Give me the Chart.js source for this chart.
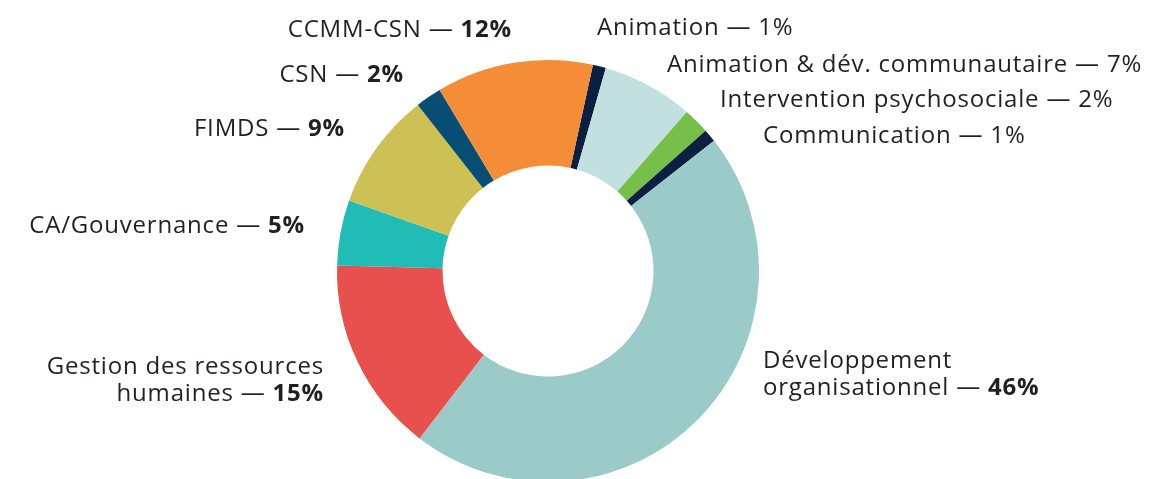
<!DOCTYPE html>
<html>
<head>
<meta charset="utf-8">
<script src="https://cdn.jsdelivr.net/npm/chart.js@4.4.0/dist/chart.umd.min.js"></script>
<style>
  html, body { margin: 0; padding: 0; background: #fff; overflow: hidden; }
  #wrap { width: 1156px; height: 482px; position: relative; }
</style>
</head>
<body>
<div id="wrap"><canvas id="myChart"></canvas></div>
<script>
// data
var categories = [
    'Animation',
    'Animation & dév. communautaire',
    'Intervention psychosociale',
    'Communication',
    'Développement organisationnel',
    'Gestion des ressources humaines',
    'CA/Gouvernance',
    'FIMDS',
    'CSN',
    'CCMM-CSN'
];
var values = [1, 7, 2, 1, 46, 15, 5, 9, 2, 12];
var colors = ['#0b1f40', '#c2e0df', '#76c04a', '#0b1f40', '#9bcbc8', '#e8504e', '#22bcb6', '#cdc155', '#064e74', '#f58c37'];

// where each label sits, relative to the doughnut centre (text baseline of last line)
var labelLayout = [
    { dx: 49,   dy: -236, align: 'left',  bold: false },
    { dx: 119,  dy: -199, align: 'left',  bold: false },
    { dx: 172,  dy: -164, align: 'left',  bold: false },
    { dx: 215,  dy: -128, align: 'left',  bold: false },
    { dx: 215,  dy: 124,  align: 'left',  bold: true, lines: ['Développement', 'organisationnel'] },
    { dx: -224, dy: 130,  align: 'right', bold: true, lines: ['Gestion des ressources', 'humaines'] },
    { dx: -243, dy: -38,  align: 'right', bold: true },
    { dx: -203, dy: -135, align: 'right', bold: true },
    { dx: -144, dy: -189, align: 'right', bold: true },
    { dx: -36,  dy: -234, align: 'right', bold: true }
];

var FONT = '"Open Sans", sans-serif';
var lineH = 27;

var outsideLabels = {
    id: 'outsideLabels',
    afterDraw: function (chart) {
        var ctx = chart.ctx;
        var arc = chart.getDatasetMeta(0).data[0];
        var cx = arc.x, cy = arc.y;
        ctx.save();
        ctx.fillStyle = '#231f20';
        ctx.textBaseline = 'alphabetic';
        ctx.letterSpacing = '0.8px';
        labelLayout.forEach(function (l, i) {
            var lines = l.lines ? l.lines.slice() : [categories[i]];
            var pct = values[i] + '%';
            var n = lines.length;
            lines.forEach(function (txt, j) {
                var y = cy + l.dy - (n - 1 - j) * lineH;
                var x = cx + l.dx;
                var last = j === n - 1;
                var reg = last ? txt + ' — ' : txt;
                ctx.font = '500 24px ' + FONT;
                var wReg = ctx.measureText(reg).width;
                var wPct = 0;
                if (last) {
                    ctx.font = (l.bold ? '700 ' : '500 ') + '24px ' + FONT;
                    wPct = ctx.measureText(pct).width;
                }
                var start = l.align === 'left' ? x : x - wReg - wPct;
                ctx.textAlign = 'left';
                ctx.font = '500 24px ' + FONT;
                ctx.fillText(reg, start, y);
                if (last) {
                    ctx.font = (l.bold ? '700 ' : '500 ') + '24px ' + FONT;
                    ctx.fillText(pct, start + wReg, y);
                }
            });
        });
        ctx.restore();
    }
};

var ctx = document.getElementById('myChart').getContext('2d');
new Chart(ctx, {
    type: 'doughnut',
    data: {
        labels: categories,
        datasets: [{
            data: values,
            backgroundColor: colors,
            borderWidth: 0
        }]
    },
    options: {
        responsive: true,
        maintainAspectRatio: false,
        animation: false,
        cutout: '50%',
        rotation: 12.3,
        layout: { padding: { top: 60, left: 337, right: 397, bottom: 0 } },
        plugins: {
            legend: { display: false },
            tooltip: { enabled: false }
        }
    },
    plugins: [outsideLabels]
});
</script>
</body>
</html>
